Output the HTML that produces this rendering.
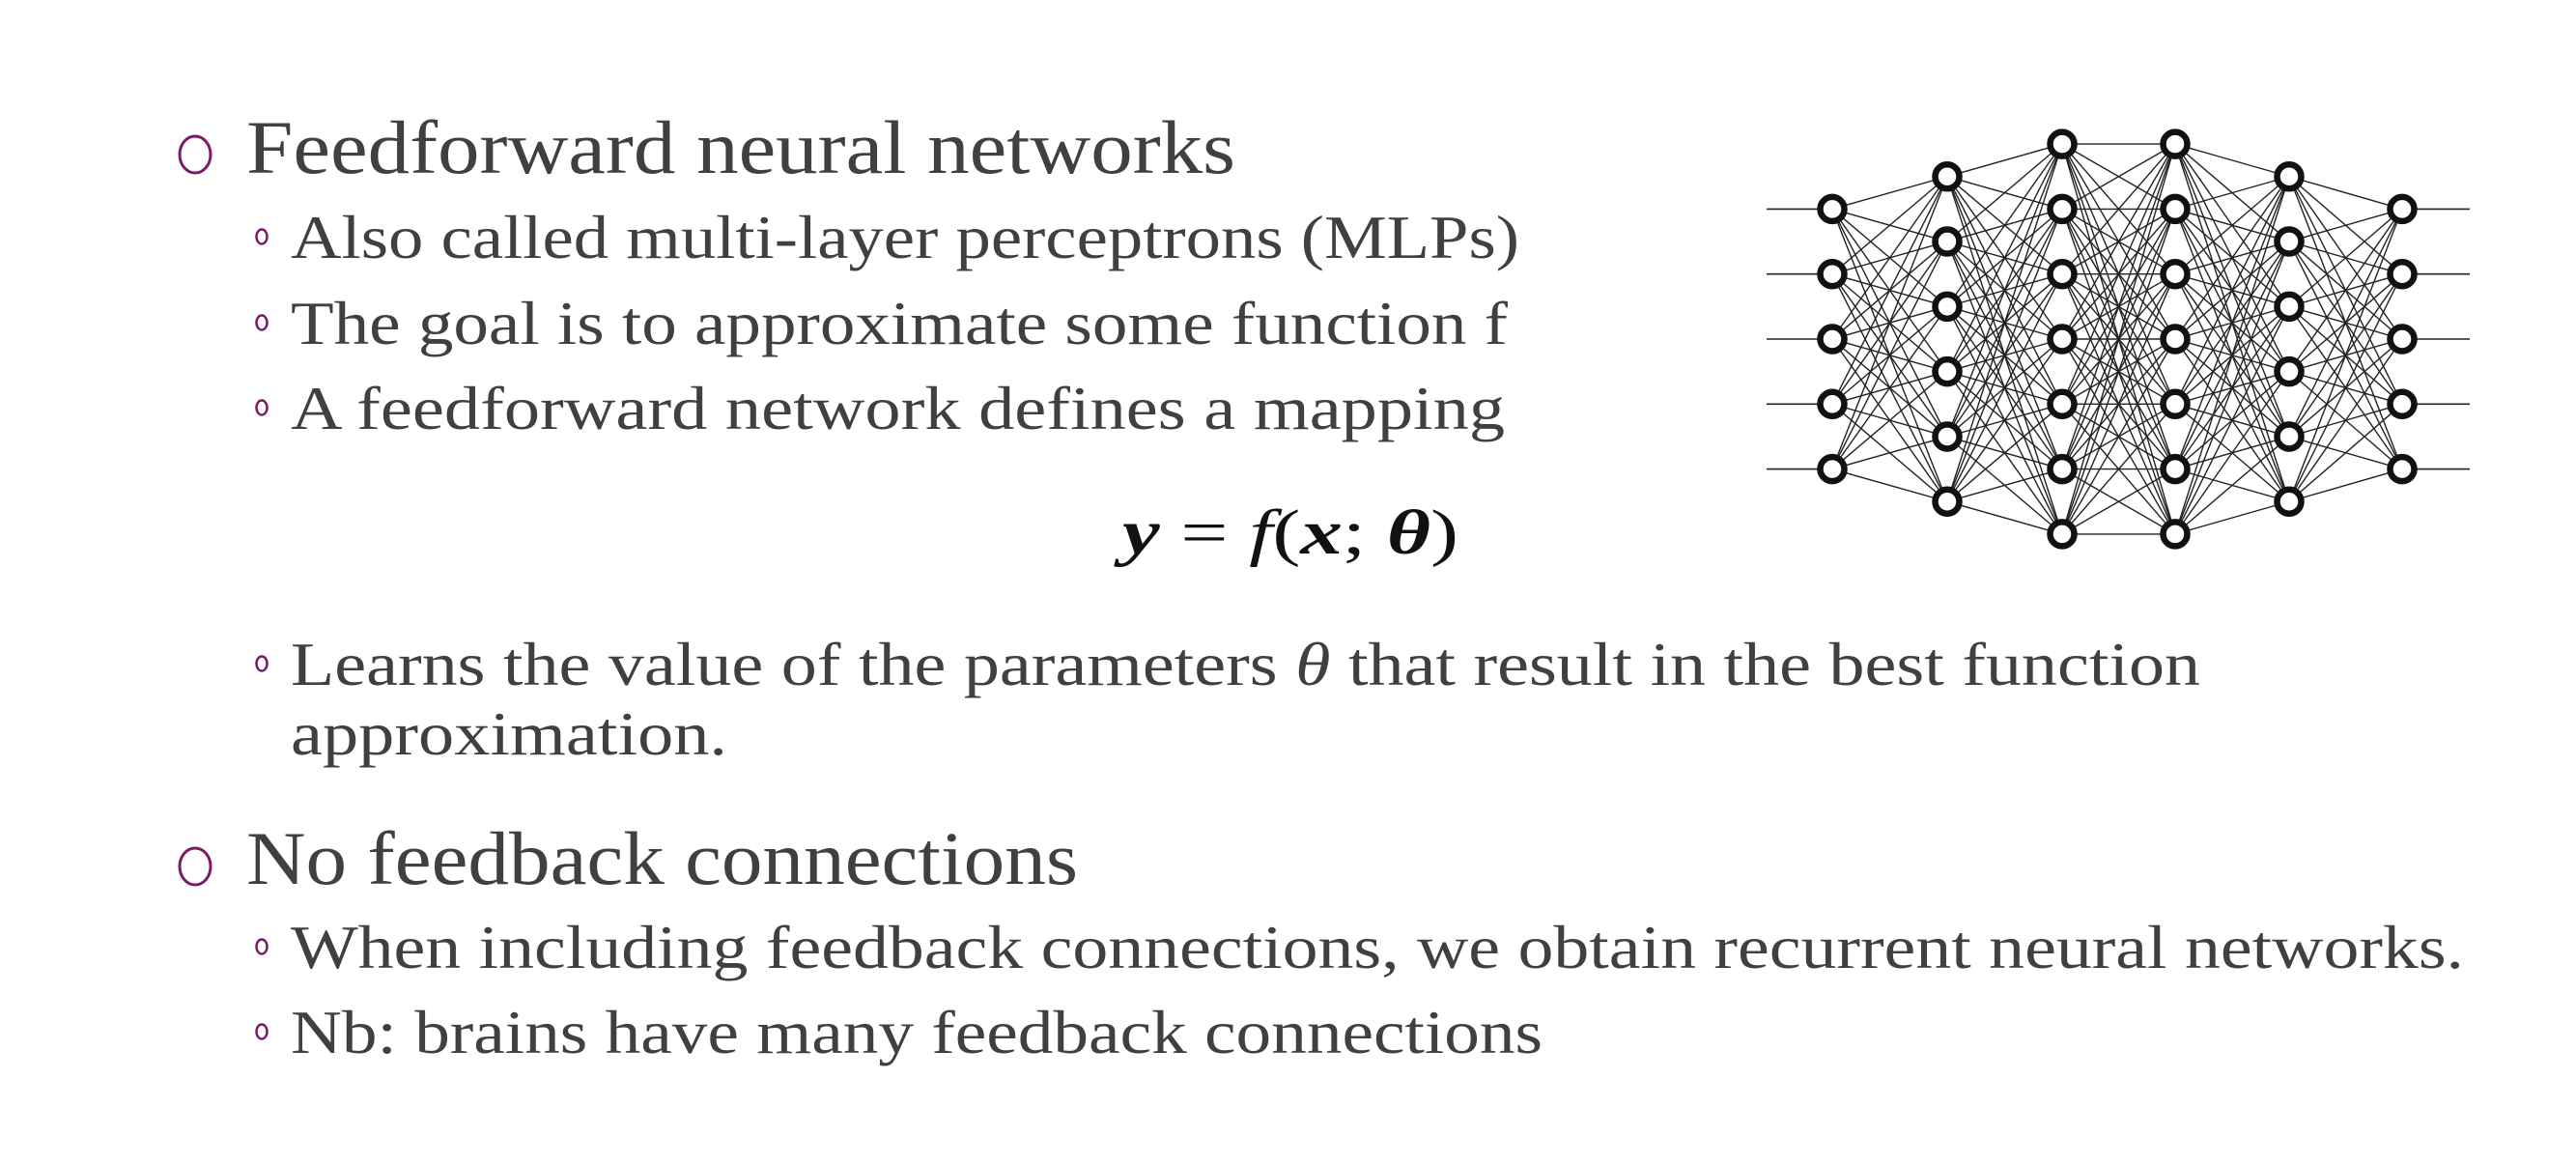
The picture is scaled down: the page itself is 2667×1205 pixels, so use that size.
<!DOCTYPE html>
<html><head><meta charset="utf-8"><style>
html,body{margin:0;padding:0;background:#fff;}
svg{display:block;}
text{font-family:"Liberation Serif",serif;fill:#404040;}
</style></head><body>
<svg id="s" width="2667" height="1205" viewBox="0 0 2667 1205" xmlns="http://www.w3.org/2000/svg">
<g fill="none" stroke="#7a1a6a">
<ellipse cx="202" cy="160" rx="16" ry="19" stroke-width="3"/>
<ellipse cx="202" cy="897" rx="16" ry="19" stroke-width="3"/>
<ellipse cx="271" cy="245" rx="5.5" ry="7.5" stroke-width="2.5"/>
<ellipse cx="271" cy="334" rx="5.5" ry="7.5" stroke-width="2.5"/>
<ellipse cx="271" cy="422" rx="5.5" ry="7.5" stroke-width="2.5"/>
<ellipse cx="271" cy="687" rx="5.5" ry="7.5" stroke-width="2.5"/>
<ellipse cx="271" cy="980" rx="5.5" ry="7.5" stroke-width="2.5"/>
<ellipse cx="271" cy="1068" rx="5.5" ry="7.5" stroke-width="2.5"/>
</g>
<text x="255" y="179" font-size="78" textLength="1024" lengthAdjust="spacingAndGlyphs">Feedforward neural networks</text>
<text x="301" y="267" font-size="64" textLength="1272" lengthAdjust="spacingAndGlyphs">Also called multi-layer perceptrons (MLPs)</text>
<text x="301" y="356" font-size="64" textLength="1260" lengthAdjust="spacingAndGlyphs">The goal is to approximate some function f</text>
<text x="301" y="444" font-size="64" textLength="1257" lengthAdjust="spacingAndGlyphs">A feedforward network defines a mapping</text>
<text x="1162" y="573" font-size="66" textLength="348" lengthAdjust="spacingAndGlyphs" style="fill:#111"><tspan font-weight="bold" font-style="italic">y</tspan> = <tspan font-style="italic">f</tspan>(<tspan font-weight="bold" font-style="italic">x</tspan>; <tspan font-weight="bold" font-style="italic">θ</tspan>)</text>
<text x="301" y="709" font-size="64" textLength="1977" lengthAdjust="spacingAndGlyphs">Learns the value of the parameters <tspan font-style="italic">θ</tspan> that result in the best function</text>
<text x="301" y="781" font-size="64" textLength="452" lengthAdjust="spacingAndGlyphs">approximation.</text>
<text x="255" y="915" font-size="78" textLength="861" lengthAdjust="spacingAndGlyphs">No feedback connections</text>
<text x="301" y="1002" font-size="64" textLength="2250" lengthAdjust="spacingAndGlyphs">When including feedback connections, we obtain recurrent neural networks.</text>
<text x="301" y="1090" font-size="64" textLength="1296" lengthAdjust="spacingAndGlyphs">Nb: brains have many feedback connections</text>
<g id="net"></g>
</svg>
<script>
(function(){
var xs=[1897,2016,2135,2252,2370,2487];
var counts=[5,6,7,7,6,5];
var sp=67.3, cy=351;
var L=[];
for(var i=0;i<6;i++){var a=[];var n=counts[i];for(var j=0;j<n;j++){a.push(cy+(j-(n-1)/2)*sp);}L.push(a);}
var ns="http://www.w3.org/2000/svg",g=document.getElementById('net');
function ln(x1,y1,x2,y2,w){var l=document.createElementNS(ns,'line');l.setAttribute('x1',x1);l.setAttribute('y1',y1);l.setAttribute('x2',x2);l.setAttribute('y2',y2);l.setAttribute('stroke','#222');l.setAttribute('stroke-width',w);g.appendChild(l);}
for(var i=0;i<5;i++)for(var a=0;a<L[i].length;a++)for(var b=0;b<L[i+1].length;b++)ln(xs[i],L[i][a],xs[i+1],L[i+1][b],1.4);
for(var j=0;j<5;j++){ln(1829,L[0][j],xs[0],L[0][j],1.6);ln(xs[5],L[5][j],2557,L[5][j],1.6);}
for(var i=0;i<6;i++)for(var j=0;j<L[i].length;j++){var c=document.createElementNS(ns,'ellipse');c.setAttribute('cx',xs[i]);c.setAttribute('cy',L[i][j]);c.setAttribute('rx',12.5);c.setAttribute('ry',12.5);c.setAttribute('fill','#fff');c.setAttribute('stroke','#111');c.setAttribute('stroke-width',6.5);g.appendChild(c);}
})();
</script>
</body></html>
